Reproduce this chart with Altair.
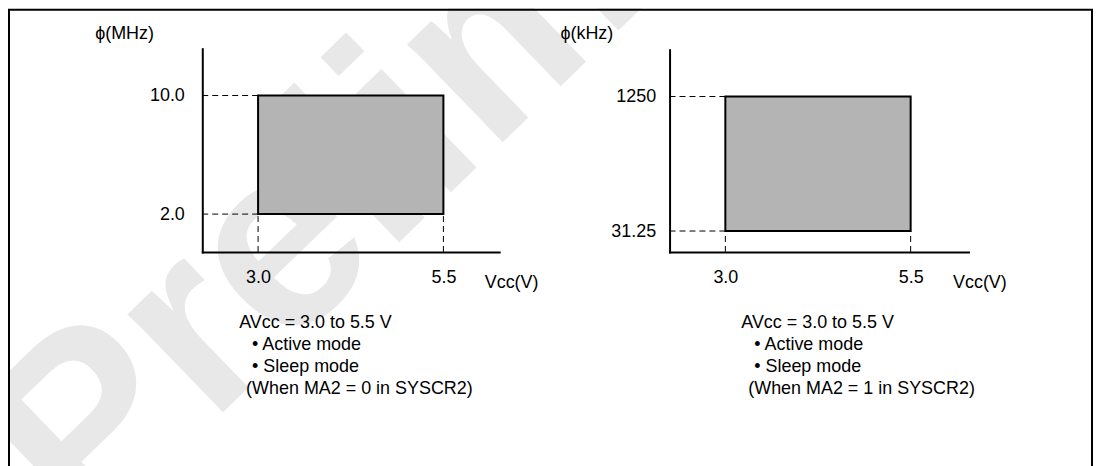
import altair as alt
import pandas as pd

# ---------------- data ----------------
vcc_limits = [3.0, 5.5]          # operating Vcc range (V)
phi_mhz = [2.0, 10.0]            # left panel: phi range (MHz)
phi_khz = [31.25, 1250.0]        # right panel: phi range (kHz)
x_ticks = [3.0, 5.5]
y_ticks_mhz = [2.0, 10.0]
y_ticks_khz = [31.25, 1250.0]
notes_left = ["AVcc = 3.0 to 5.5 V", "\u2022 Active mode", "\u2022 Sleep mode",
              "(When MA2 = 0 in SYSCR2)"]
notes_right = ["AVcc = 3.0 to 5.5 V", "\u2022 Active mode", "\u2022 Sleep mode",
               "(When MA2 = 1 in SYSCR2)"]
watermark = "Preliminary"

FONT = "Liberation Sans"
FS = 18
W, H = 1089, 458
NB = "\u00a0"


def panel(lims_y, xdom, xrange, ydom, yrange, yticks, ylabexpr, ylabpad,
          ytitle, ytitle_x, yoffset, xtitle_x):
    xscale = alt.Scale(domain=xdom, range=xrange, nice=False, zero=False)
    yscale = alt.Scale(domain=ydom, range=yrange, nice=False, zero=False)
    xaxis = alt.Axis(values=x_ticks, format=".1f", orient="bottom", offset=244 - H,
                     grid=False, ticks=False, tickSize=0, domainColor="black",
                     domainWidth=2, domainCap="square", labelFont=FONT, labelFontSize=FS,
                     labelColor="black", labelPadding=17, labelFlush=False,
                     title="Vcc(V)", titleFont=FONT, titleFontSize=FS,
                     titleFontWeight="normal", titleColor="black",
                     titleX=xtitle_x, titleY=31, titleAlign="left",
                     titleBaseline="middle", titleAngle=0, zindex=1)
    yaxis = alt.Axis(values=yticks, orient="left", offset=yoffset,
                     labelExpr=ylabexpr,
                     grid=False, ticks=False, tickSize=0, domainColor="black",
                     domainWidth=2, domainCap="square", labelFont=FONT, labelFontSize=FS,
                     labelColor="black", labelPadding=ylabpad, labelFlush=False,
                     title=ytitle, titleFont=FONT, titleFontSize=FS,
                     titleFontWeight="normal", titleColor="black",
                     titleX=ytitle_x, titleY=25, titleAlign="left",
                     titleBaseline="middle", titleAngle=0, zindex=1)
    X = alt.X("x:Q", scale=xscale, axis=xaxis)
    Y = alt.Y("y:Q", scale=yscale, axis=yaxis)

    rect_df = pd.DataFrame({"x": [vcc_limits[0]], "x2": [vcc_limits[1]],
                            "y": [lims_y[0]], "y2": [lims_y[1]]})
    rect = alt.Chart(rect_df).mark_rect(fill="#b4b4b4", stroke="black",
                                        strokeWidth=2).encode(
        x=X, x2="x2:Q", y=Y, y2="y2:Q")

    hdf = pd.DataFrame({"x": [xdom[0]] * 2, "x2": [vcc_limits[0]] * 2,
                        "y": lims_y})
    hrule = alt.Chart(hdf).mark_rule(color="black", strokeWidth=1,
                                     strokeDash=[6, 4]).encode(
        x=X, x2="x2:Q", y=Y)

    vdf = pd.DataFrame({"x": vcc_limits, "y": [ydom[0]] * 2,
                        "y2": [lims_y[0]] * 2})
    vrule = alt.Chart(vdf).mark_rule(color="black", strokeWidth=1,
                                     strokeDash=[6, 4]).encode(
        x=X, y=Y, y2="y2:Q")
    return alt.layer(rect, hrule, vrule)


left = panel(phi_mhz, [2.2473, 6.2527], [195, 493], [-0.555, 13.16], [244, 40],
             y_ticks_mhz, "format(datum.value, '.1f')", 18, "\u03d5(MHz)",
             -108, -195, 478)
right = panel(phi_khz, [2.2473, 6.28], [664, 964], [-158.33, 1674.3], [244, 41],
              y_ticks_khz,
              "format(datum.value, '.2~f') + (datum.value < 100 ? '" + NB * 3 + "' : '')",
              14, "\u03d5(kHz)", -110, -664, 948)

base = pd.DataFrame({"k": [0]})

wm = alt.Chart(base).mark_text(text=watermark, angle=316, fontSize=260,
                               fontWeight="bold", font=FONT, color="#e8e8e8",
                               align="left", baseline="alphabetic").encode(
    x=alt.value(78), y=alt.value(538))

note_layers = []
for lines, x0 in ((notes_left, 232), (notes_right, 736)):
    indents = [0, 13, 13, 7]
    for i, line in enumerate(lines):
        note_layers.append(
            alt.Chart(base).mark_text(text=line, font=FONT, fontSize=FS,
                                      color="black", align="left",
                                      baseline="middle").encode(
                x=alt.value(x0 + indents[i]), y=alt.value(315 + 22.2 * i)))

border = alt.Chart(base).mark_rect(filled=False, stroke="black",
                                   strokeWidth=2).encode(
    x=alt.value(1), x2=alt.value(W - 1), y=alt.value(1), y2=alt.value(H + 20))

chart = alt.layer(wm, left, right, *note_layers, border).resolve_scale(
    x="independent", y="independent").resolve_axis(
    x="independent", y="independent").properties(
    width=W, height=H, padding=0, autosize=alt.AutoSizeParams(type="none"),
    background="white").configure_view(stroke=None)

chart.save("out.html", embed_options={"renderer": "svg", "actions": False})
